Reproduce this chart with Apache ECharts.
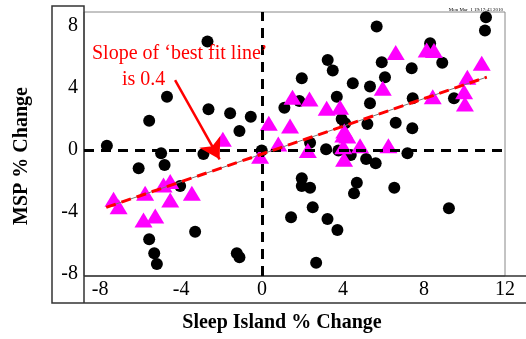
<!DOCTYPE html>
<html>
<head>
<meta charset="utf-8">
<script src="https://cdn.jsdelivr.net/npm/echarts@6/dist/echarts.min.js"></script>
<style>
  html, body { margin: 0; padding: 0; background: #fff; }
  #main { width: 526px; height: 339px; }
</style>
</head>
<body>
<div id="main"></div>
<script>
// black dots (x = Sleep Island % change, y = MSP % change)
var dotX = [-7.67, -2.70, -4.70, -5.58, -2.65, -1.58, -0.56, -1.12, -4.99, -2.90, -4.82, -0.02, -6.10,
  -4.05, -3.31, -5.58, -5.33, -5.20, -1.25, -1.12, 11.06, 11.01, 5.66, 8.30, 3.24, 3.49, 5.91, 7.39,
  8.90, 1.96, 4.48, 5.33, 6.07, 3.69, 5.33, 7.44, 9.48, 1.10, 1.84, 3.93, 4.10, 5.20, 6.60, 7.42,
  2.37, 3.16, 3.77, 4.38, 5.14, 5.61, 7.18, 1.96, 1.96, 2.37, 4.68, 4.54, 6.53, 2.50, 1.43, 3.23,
  3.72, 2.67, 9.23];
var dotY = [0.28, 6.99, 3.44, 1.89, 2.62, 2.37, 2.15, 1.23, -0.21, -0.26, -0.97, -0.04, -1.18,
  -2.32, -5.27, -5.76, -6.67, -7.35, -6.67, -6.92, 8.56, 7.70, 7.96, 6.88, 5.81, 5.12, 5.66, 5.27,
  5.63, 4.62, 4.30, 4.09, 4.69, 3.44, 3.01, 3.33, 3.33, 2.73, 3.16, 2.00, 1.72, 1.68, 1.76, 1.40,
  0.47, 0.04, -0.04, -0.32, -0.58, -0.86, -0.21, -1.83, -2.32, -2.43, -2.11, -2.80, -2.43, -3.70,
  -4.34, -4.45, -5.16, -7.27, -3.76];

// magenta triangles
var triX = [-1.94, -0.10, 0.33, -7.34, -7.09, -5.78, -4.54, -4.87, -4.54, -3.47, -5.86, -5.28,
  6.60, 8.13, 8.49, 10.85, 10.14, 9.98, 10.02, 8.43, 5.96, 1.50, 2.34, 3.19, 3.85, 1.38, 4.06,
  4.01, 4.21, 0.80, 2.26, 4.01, 4.84, 6.24, 4.05];
var triY = [0.69, -0.40, 1.72, -3.18, -3.66, -2.80, -2.04, -2.26, -3.23, -2.80, -4.52, -4.26,
  6.28, 6.45, 6.41, 5.59, 4.69, 3.76, 2.97, 3.44, 3.98, 3.40, 3.29, 2.69, 2.75, 1.55, 1.23,
  0.97, 0.90, 0.39, -0.04, 0.21, 0.28, 0.28, -0.60];

// best fit line end points
var fitX = [-7.7, 11.1];
var fitY = [-3.7, 4.7];

// arrow from the note to the line
var arrowFrom = [-4.3, 4.5];
var arrowTo = [-2.1, -0.6];

var xTicks = [-8, -4, 0, 4, 8, 12];
var yTicks = [-8, -4, 0, 4, 8];

var serif = 'Liberation Serif, Times New Roman, serif';

function pairs(xs, ys) {
  return xs.map(function (v, i) { return [v, ys[i]]; });
}

var chart = echarts.init(document.getElementById('main'));

chart.setOption({
  animation: false,
  grid: { left: 84, top: 12, width: 421, height: 264, show: true, borderColor: '#888', borderWidth: 1 },
  xAxis: {
    type: 'value', min: -8.8, max: 12,
    axisLine: { show: false }, axisTick: { show: false }, splitLine: { show: false },
    axisLabel: { customValues: xTicks, fontFamily: serif, fontSize: 20, color: '#000', margin: 4 }
  },
  yAxis: {
    type: 'value', min: -8.13, max: 8.9,
    axisLine: { show: false }, axisTick: { show: false }, splitLine: { show: false },
    axisLabel: { customValues: yTicks, fontFamily: serif, fontSize: 20, color: '#000', margin: 6 }
  },
  series: [
    {
      type: 'scatter', data: pairs(dotX, dotY), symbol: 'circle', symbolSize: 12,
      itemStyle: { color: '#000', opacity: 1 }, z: 3,
      markLine: {
        silent: true, symbol: 'none', label: { show: false },
        lineStyle: { color: '#000', type: [10, 7], width: 3 },
        data: [{ yAxis: 0 }, { xAxis: 0 }]
      }
    },
    {
      type: 'scatter', data: pairs(triX, triY), symbol: 'triangle', symbolSize: [18, 15],
      itemStyle: { color: '#ff00ff', opacity: 1 }, z: 4
    },
    {
      type: 'line', data: pairs(fitX, fitY), symbol: 'none', z: 5,
      lineStyle: { color: '#777', width: 1 }
    },
    {
      type: 'line', data: pairs(fitX, fitY), symbol: 'none', z: 6,
      lineStyle: { color: '#ff0000', width: 3, type: [10, 6] },
      markLine: {
        silent: true, symbol: ['none', 'arrow'], symbolSize: [18, 20], label: { show: false },
        lineStyle: { color: '#ff0000', width: 2.5, type: 'solid' },
        data: [[{ coord: arrowFrom }, { coord: arrowTo }]]
      }
    }
  ],
  graphic: [
    { type: 'polyline', shape: { points: [[84, 303], [52, 303], [52, 6], [84, 6], [84, 303]] },
      style: { stroke: '#333', lineWidth: 1.5, fill: null } },
    { type: 'line', shape: { x1: 84, y1: 303, x2: 526, y2: 303 }, style: { stroke: '#333', lineWidth: 1.5 } },
    { type: 'line', shape: { x1: 84, y1: 276, x2: 526, y2: 276 }, style: { stroke: '#333', lineWidth: 1.5 } },
    { type: 'text', x: 282, y: 323,
      style: { text: 'Sleep Island % Change', font: 'bold 20px ' + serif, fill: '#000', align: 'center', verticalAlign: 'middle' } },
    { type: 'text', x: 22, y: 156, rotation: Math.PI / 2,
      style: { text: 'MSP % Change', font: 'bold 20px ' + serif, fill: '#000', align: 'center', verticalAlign: 'middle' } },
    { type: 'text', x: 92, y: 54, z: 10,
      style: { text: 'Slope of \u2018best fit line\u2019', font: '20px ' + serif, fill: '#ff0000', align: 'left', verticalAlign: 'middle' } },
    { type: 'text', x: 122, y: 80, z: 10,
      style: { text: 'is 0.4', font: '20px ' + serif, fill: '#ff0000', align: 'left', verticalAlign: 'middle' } },
    { type: 'text', x: 503, y: 10,
      style: { text: 'Mon Mar  1 19:17:43 2010', font: '5px ' + serif, fill: '#000', align: 'right', verticalAlign: 'middle' } }
  ]
});
</script>
</body>
</html>
